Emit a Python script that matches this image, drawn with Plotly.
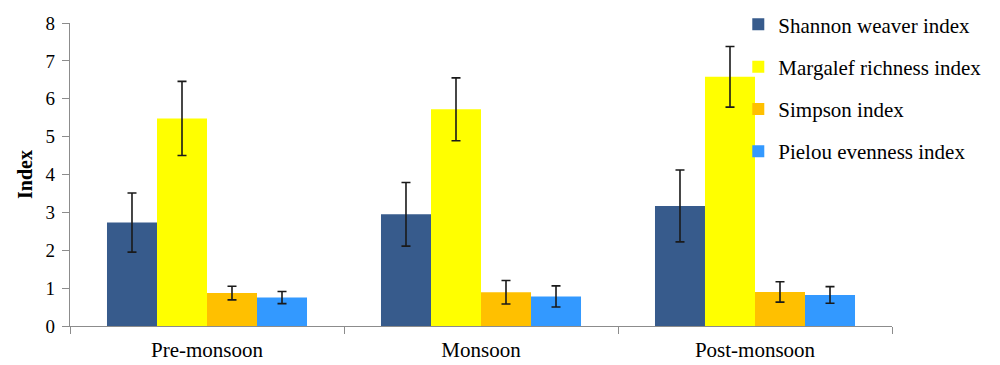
import plotly.graph_objects as go

seasons = ["Pre-monsoon", "Monsoon", "Post-monsoon"]
series_names = ["Shannon weaver index", "Margalef richness index", "Simpson index", "Pielou evenness index"]
shannon = [2.73, 2.95, 3.17]
shannon_err = [0.78, 0.84, 0.95]
margalef = [5.48, 5.72, 6.58]
margalef_err = [0.98, 0.83, 0.80]
simpson = [0.87, 0.89, 0.90]
simpson_err = [0.18, 0.31, 0.27]
pielou = [0.75, 0.78, 0.82]
pielou_err = [0.16, 0.28, 0.22]
colors = ["#375B8C", "#FFFF00", "#FFC000", "#3399FF"]

values = [shannon, margalef, simpson, pielou]
errors = [shannon_err, margalef_err, simpson_err, pielou_err]

fig = go.Figure()
for i, (name, v, e, c) in enumerate(zip(series_names, values, errors, colors)):
    fig.add_trace(go.Bar(
        x=seasons, y=v, name=name, marker_color=c, marker_line_width=0,
        legendgroup=f"g{i}",
        error_y=dict(type="data", array=e, visible=True, color="#1a1a1a", thickness=1.6, width=4.5),
    ))

font = "Times New Roman"
fig.update_layout(
    width=1000, height=365,
    margin=dict(l=62, r=116, t=15, b=47, autoexpand=False),
    paper_bgcolor="white", plot_bgcolor="white",
    barmode="group", bargap=0.27, bargroupgap=0,
    font=dict(family=font, size=19, color="black"),
    legend=dict(x=0.813, y=1.062, xanchor="left", yanchor="top",
                font=dict(family=font, size=21, color="black"), tracegroupgap=12,
                itemwidth=30, bgcolor="rgba(0,0,0,0)"),
    showlegend=True,
)
fig.update_xaxes(
    showline=True, linecolor="#8c8c8c", linewidth=1.2,
    ticks="outside", tickson="boundaries", ticklen=7, tickcolor="#8c8c8c",
    tickfont=dict(family=font, size=21), showgrid=False, ticklabelstandoff=5,
)
fig.update_yaxes(
    range=[0, 8], dtick=1, showline=True, linecolor="#8c8c8c", linewidth=1.2,
    ticks="outside", ticklen=7, tickcolor="#8c8c8c", showgrid=False, zeroline=False,
    tickfont=dict(family=font, size=19), automargin=False, ticklabelstandoff=3,
    title=dict(text="<b>Index</b>", font=dict(family=font, size=20), standoff=7),
)
fig.write_html("out.html")
